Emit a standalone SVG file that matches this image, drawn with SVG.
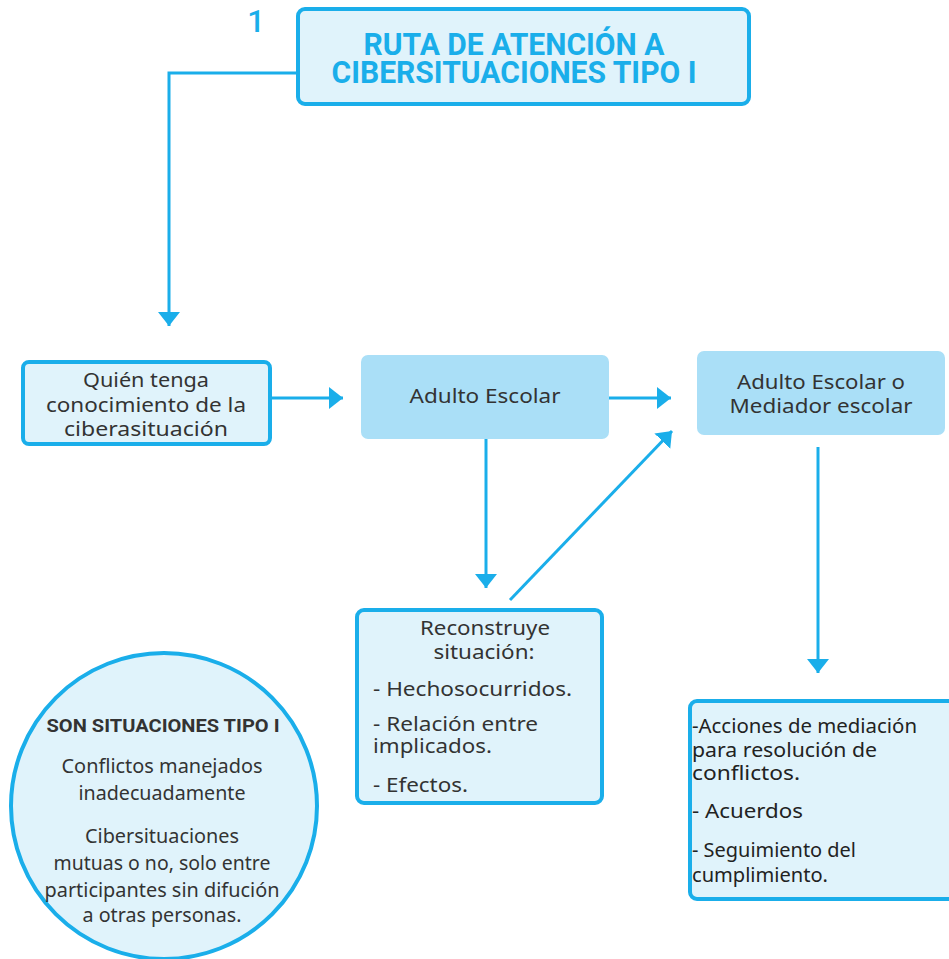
<svg xmlns="http://www.w3.org/2000/svg" width="949" height="959" viewBox="0 0 949 959">
<style>
.bx{fill:#e0f3fb;stroke:#1aaeea;stroke-width:4}
.fl{fill:#aadff7}
.t{font-family:"Noto Sans","Open Sans",sans-serif;font-size:20px;fill:#333}
.d{fill:#222}
.c{text-anchor:middle}
.ttl{font-family:Roboto,"Liberation Sans",sans-serif;font-weight:bold;font-size:31px;fill:#1aaeea;text-anchor:middle}
.cn{fill:none;stroke:#1aaeea;stroke-width:3}
</style>
<defs>
<marker id="ah" markerUnits="userSpaceOnUse" markerWidth="24" markerHeight="24" refX="14" refY="11" orient="auto">
<path d="M0,0 L14,11 L0,22 Z" fill="#1aaeea"/>
</marker>
</defs>
<rect width="949" height="959" fill="#fff"/>
<g id="connectors">
<polyline class="cn" points="298,73 169,73 169,326" marker-end="url(#ah)"/>
<line class="cn" x1="270" y1="398" x2="343" y2="398" marker-end="url(#ah)"/>
<line class="cn" x1="609" y1="398" x2="671" y2="398" marker-end="url(#ah)"/>
<line class="cn" x1="486" y1="439" x2="486" y2="588" marker-end="url(#ah)"/>
<line class="cn" x1="510" y1="600" x2="672" y2="431" marker-end="url(#ah)"/>
<line class="cn" x1="818" y1="447" x2="818" y2="673" marker-end="url(#ah)"/>
</g>
<g id="number">
<text x="256" y="32" font-family="Roboto,'Liberation Sans',sans-serif" font-weight="500" font-size="31" fill="#1aaeea" text-anchor="middle">1</text>
</g>
<g id="title">
<rect class="bx" x="298" y="9" width="451" height="95" rx="7"/>
<text class="ttl" x="514" y="55" textLength="301" lengthAdjust="spacingAndGlyphs">RUTA DE ATENCIÓN A</text>
<text class="ttl" x="514" y="83" textLength="365" lengthAdjust="spacingAndGlyphs">CIBERSITUACIONES TIPO I</text>
</g>
<g id="quien">
<rect class="bx" x="23" y="362" width="247" height="82" rx="6"/>
<text class="t c" x="146" y="387" textLength="126" lengthAdjust="spacingAndGlyphs">Quién tenga</text>
<text class="t c" x="146" y="412" textLength="200" lengthAdjust="spacingAndGlyphs">conocimiento de la</text>
<text class="t c" x="146" y="436" textLength="164" lengthAdjust="spacingAndGlyphs">ciberasituación</text>
</g>
<g id="adulto">
<rect class="fl" x="361" y="355" width="248" height="84" rx="7"/>
<text class="t c" x="485" y="403" textLength="151" lengthAdjust="spacingAndGlyphs">Adulto Escolar</text>
</g>
<g id="mediador">
<rect class="fl" x="697" y="351" width="248" height="84" rx="7"/>
<text class="t c" x="821" y="389" textLength="168" lengthAdjust="spacingAndGlyphs">Adulto Escolar o</text>
<text class="t c" x="821" y="413" textLength="183" lengthAdjust="spacingAndGlyphs">Mediador escolar</text>
</g>
<g id="reconstruye">
<rect class="bx" x="357" y="610" width="245" height="193" rx="7"/>
<text class="t c" x="485" y="635" textLength="130" lengthAdjust="spacingAndGlyphs">Reconstruye</text>
<text class="t c" x="484" y="659" textLength="101" lengthAdjust="spacingAndGlyphs">situación:</text>
<text class="t" x="373" y="696" textLength="199" lengthAdjust="spacingAndGlyphs">- Hechosocurridos.</text>
<text class="t" x="373" y="731" textLength="165" lengthAdjust="spacingAndGlyphs">- Relación entre</text>
<text class="t" x="373" y="753" textLength="119" lengthAdjust="spacingAndGlyphs">implicados.</text>
<text class="t" x="373" y="792" textLength="95" lengthAdjust="spacingAndGlyphs">- Efectos.</text>
</g>
<g id="acciones">
<rect class="bx" x="690" y="701" width="270" height="198" rx="7"/>
<text class="t d" x="692" y="733" textLength="225" lengthAdjust="spacingAndGlyphs">-Acciones de mediación</text>
<text class="t d" x="692" y="757" textLength="185" lengthAdjust="spacingAndGlyphs">para resolución de</text>
<text class="t d" x="692" y="780" textLength="108" lengthAdjust="spacingAndGlyphs">conflictos.</text>
<text class="t d" x="692" y="818" textLength="111" lengthAdjust="spacingAndGlyphs">- Acuerdos</text>
<text class="t d" x="692" y="857" textLength="164" lengthAdjust="spacingAndGlyphs">- Seguimiento del</text>
<text class="t d" x="692" y="882" textLength="136" lengthAdjust="spacingAndGlyphs">cumplimiento.</text>
</g>
<g id="tipo1">
<circle class="bx" cx="164" cy="806" r="153"/>
<text x="163" y="732" font-family="Roboto,'Liberation Sans',sans-serif" font-weight="bold" font-size="19" fill="#333" text-anchor="middle" textLength="233" lengthAdjust="spacingAndGlyphs">SON SITUACIONES TIPO I</text>
<text class="t c" x="162" y="773" font-size="19" textLength="201" lengthAdjust="spacingAndGlyphs">Conflictos manejados</text>
<text class="t c" x="162" y="800" font-size="19" textLength="167" lengthAdjust="spacingAndGlyphs">inadecuadamente</text>
<text class="t c" x="162" y="843" font-size="19" textLength="154" lengthAdjust="spacingAndGlyphs">Cibersituaciones</text>
<text class="t c" x="162" y="870" font-size="19" textLength="217" lengthAdjust="spacingAndGlyphs">mutuas o no, solo entre</text>
<text class="t c" x="162" y="897" font-size="19" textLength="235" lengthAdjust="spacingAndGlyphs">participantes sin difución</text>
<text class="t c" x="162" y="922" font-size="19" textLength="159" lengthAdjust="spacingAndGlyphs">a otras personas.</text>
</g>
</svg>
